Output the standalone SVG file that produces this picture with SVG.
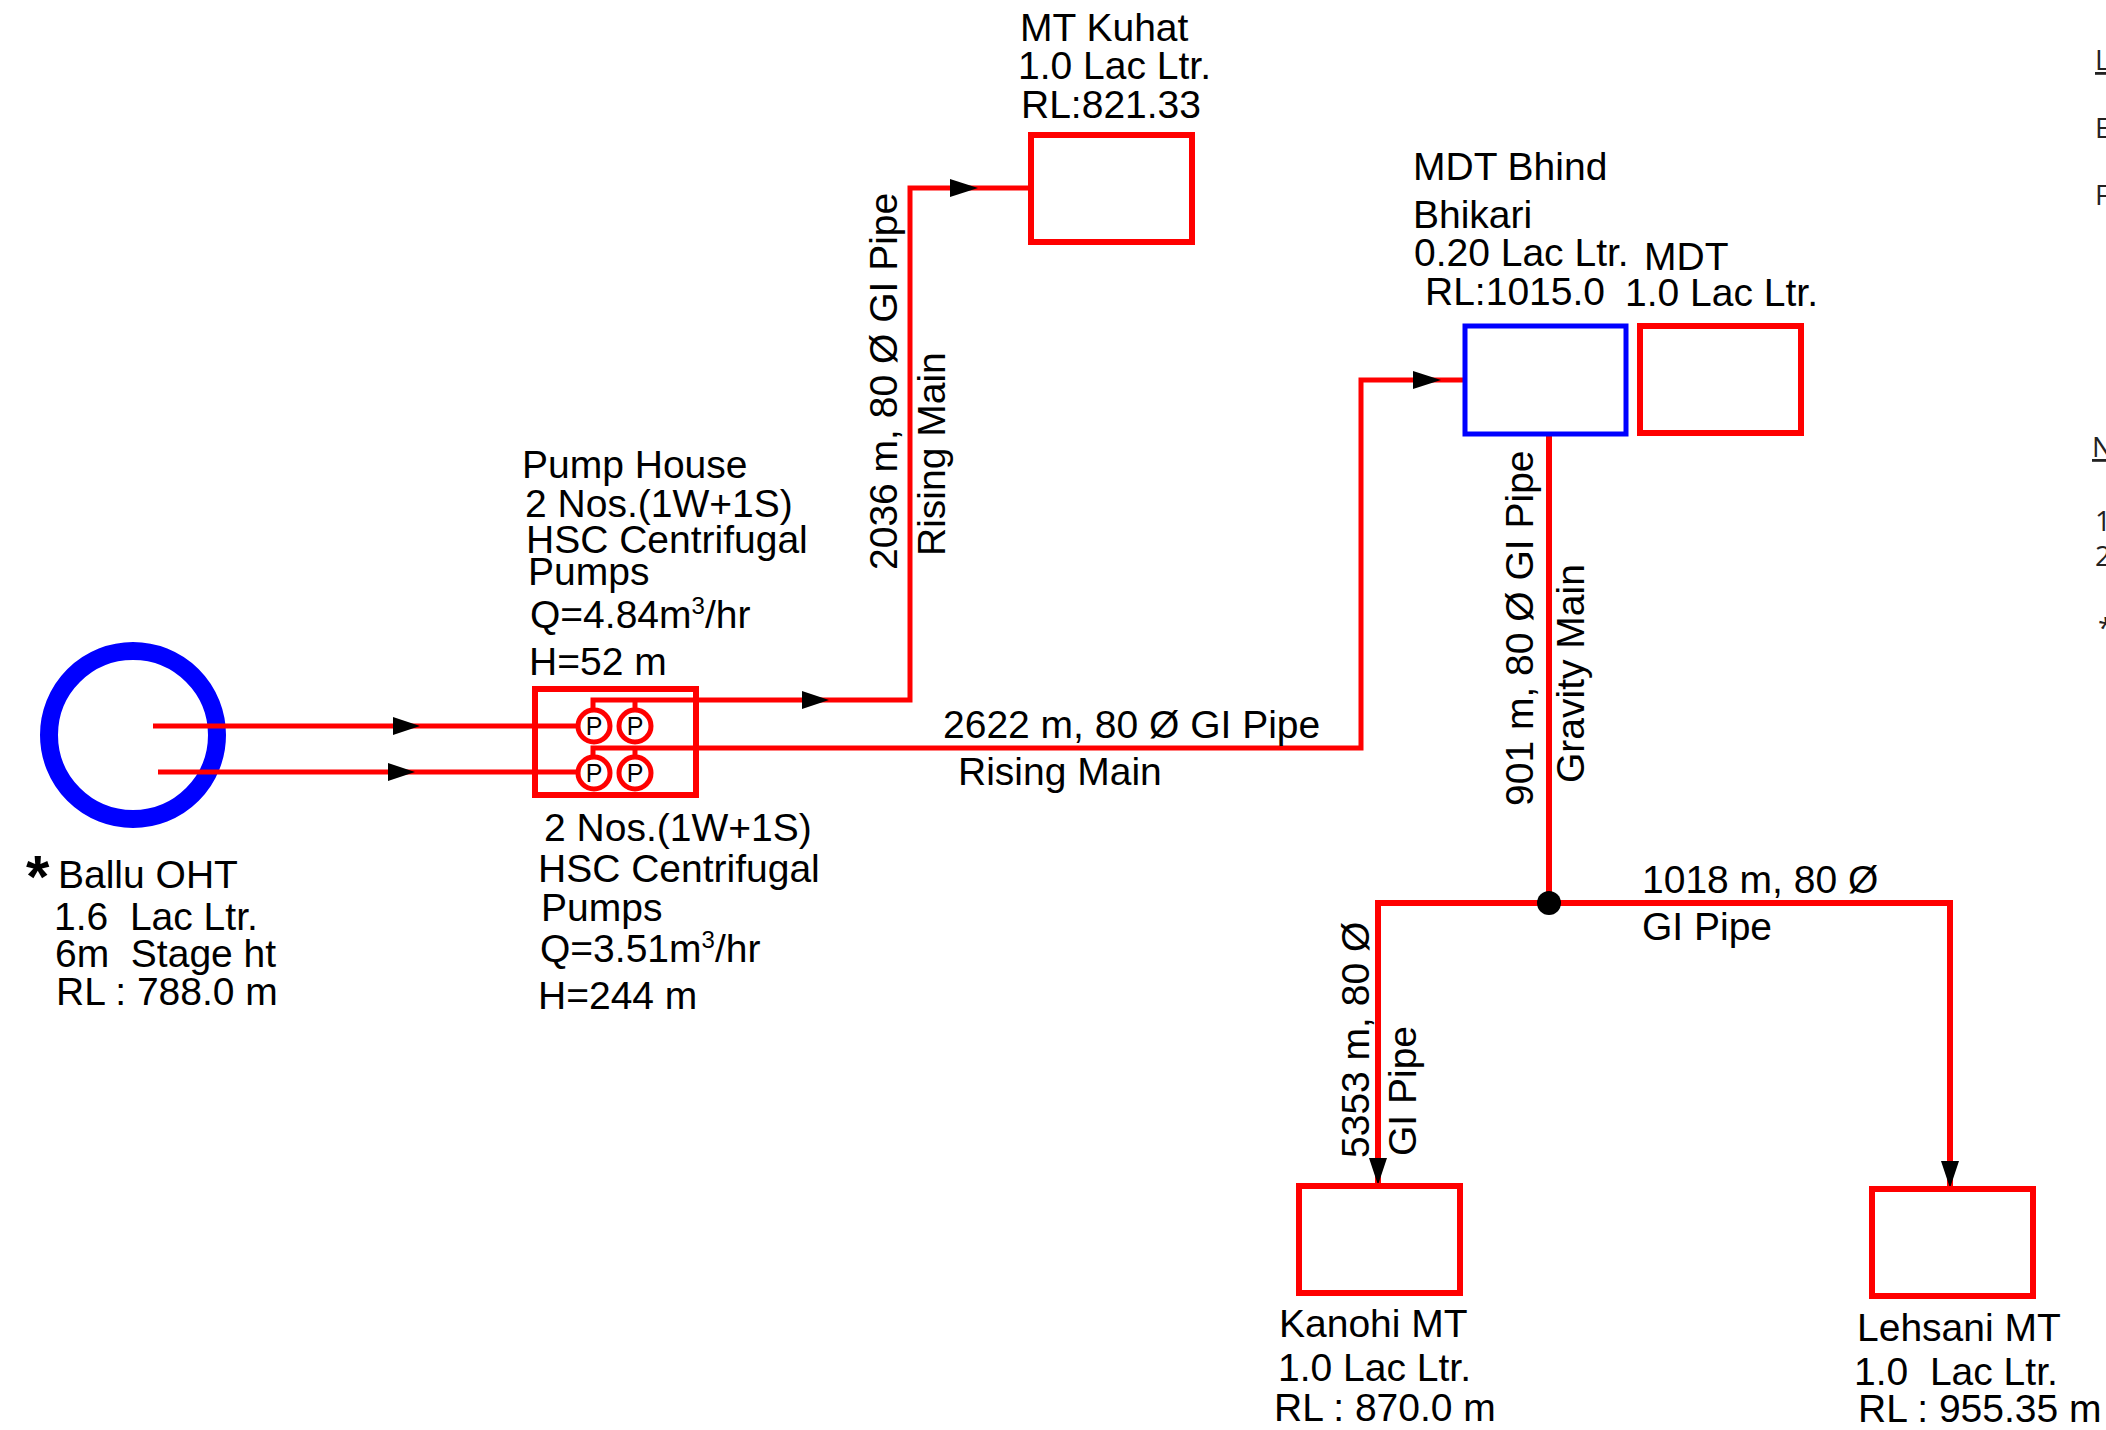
<svg xmlns="http://www.w3.org/2000/svg" width="2106" height="1430" viewBox="0 0 2106 1430">
<style>
text{font-family:"Liberation Sans",Arial,sans-serif;font-size:39px;fill:#000}
.p{fill:none;stroke:#f00;stroke-width:5}
.box{fill:none;stroke:#f00;stroke-width:6}
.blue{fill:none;stroke:#00f;stroke-width:5}
.pump{fill:#fff;stroke:#f00;stroke-width:5}
.pl{font-size:25px;text-anchor:middle}
.side{font-family:"Open Sans",sans-serif;font-size:28px;fill:#222}
.ah{fill:#000;stroke:none}
</style>
<rect width="2106" height="1430" fill="#fff"/>
<g id="ballu-oht">
<circle cx="133" cy="735" r="84" fill="none" stroke="#00f" stroke-width="18"/>
<text x="26" y="897" style="font-size:60px;font-weight:bold">*</text>
<text x="58" y="888">Ballu OHT</text>
<text x="54" y="930" xml:space="preserve">1.6  Lac Ltr.</text>
<text x="55" y="967" xml:space="preserve">6m  Stage ht</text>
<text x="56" y="1005">RL : 788.0 m</text>
</g>
<g id="pump-house">
<rect class="box" x="535" y="689" width="161" height="106"/>
<text x="522" y="478">Pump House</text>
<text x="525" y="517">2 Nos.(1W+1S)</text>
<text x="526" y="553">HSC Centrifugal</text>
<text x="528" y="585">Pumps</text>
<text x="530" y="628">Q=4.84m<tspan dy="-14" font-size="24">3</tspan><tspan dy="14">/hr</tspan></text>
<text x="529" y="675">H=52 m</text>
<text x="544" y="841">2 Nos.(1W+1S)</text>
<text x="538" y="882">HSC Centrifugal</text>
<text x="541" y="921">Pumps</text>
<text x="540" y="962">Q=3.51m<tspan dy="-14" font-size="24">3</tspan><tspan dy="14">/hr</tspan></text>
<text x="538" y="1009">H=244 m</text>
</g>
<g id="connectors">
<path class="p" d="M153 726H594M158 772H594"/>
<path class="p" d="M593 713V700H829H910V188H1030M635 700V713"/>
<path class="p" d="M593 760V748H1361V380H1465M635 748V760"/>
<path class="p" style="stroke-width:6" d="M1549 434V903M1378 1185V903H1950V1188"/>
<circle cx="1549" cy="903" r="12" fill="#000"/>
<path class="ah" d="M393 717L420 726L393 735Z"/>
<path class="ah" d="M388 763L415 772L388 781Z"/>
<path class="ah" d="M802 691L829 700L802 709Z"/>
<path class="ah" d="M950 179L978 188L950 197Z"/>
<path class="ah" d="M1413 371L1441 380L1413 389Z"/>
<path class="ah" d="M1369 1158L1378 1185L1387 1158Z"/>
<path class="ah" d="M1941 1161L1950 1188L1959 1161Z"/>
</g>
<g id="pump-1"><circle class="pump" cx="594" cy="726" r="16"/><text class="pl" x="594" y="735">P</text></g>
<g id="pump-2"><circle class="pump" cx="635" cy="726" r="16"/><text class="pl" x="635" y="735">P</text></g>
<g id="pump-3"><circle class="pump" cx="594" cy="773" r="16"/><text class="pl" x="594" y="782">P</text></g>
<g id="pump-4"><circle class="pump" cx="635" cy="773" r="16"/><text class="pl" x="635" y="782">P</text></g>
<g id="mt-kuhat">
<rect class="box" x="1031" y="135" width="161" height="107"/>
<text x="1020" y="41">MT Kuhat</text>
<text x="1018" y="79">1.0 Lac Ltr.</text>
<text x="1021" y="118">RL:821.33</text>
</g>
<g id="mdt-bhind">
<rect class="blue" x="1465" y="326" width="161" height="108"/>
<text x="1413" y="180">MDT Bhind</text>
<text x="1413" y="228">Bhikari</text>
<text x="1414" y="266">0.20 Lac Ltr.</text>
<text x="1425" y="305">RL:1015.0</text>
</g>
<g id="mdt">
<rect class="box" x="1640" y="326" width="161" height="107"/>
<text x="1644" y="270">MDT</text>
<text x="1625" y="306">1.0 Lac Ltr.</text>
</g>
<g id="kanohi-mt">
<rect class="box" x="1299" y="1186" width="161" height="107"/>
<text x="1279" y="1337">Kanohi MT</text>
<text x="1278" y="1381">1.0 Lac Ltr.</text>
<text x="1274" y="1421">RL : 870.0 m</text>
</g>
<g id="lehsani-mt">
<rect class="box" x="1872" y="1189" width="161" height="107"/>
<text x="1857" y="1341">Lehsani MT</text>
<text x="1854" y="1385" xml:space="preserve">1.0  Lac Ltr.</text>
<text x="1858" y="1422">RL : 955.35 m</text>
</g>
<g id="labels">
<text transform="translate(897 570) rotate(-90)">2036 m, 80 Ø GI Pipe</text>
<text transform="translate(945 556) rotate(-90)">Rising Main</text>
<text x="943" y="738">2622 m, 80 Ø GI Pipe</text>
<text x="958" y="785">Rising Main</text>
<text transform="translate(1533 806) rotate(-90)">901 m, 80 Ø GI Pipe</text>
<text transform="translate(1584 783) rotate(-90)">Gravity Main</text>
<text x="1642" y="893">1018 m, 80 Ø</text>
<text x="1642" y="940">GI Pipe</text>
<text transform="translate(1369 1158) rotate(-90)">5353 m, 80 Ø</text>
<text transform="translate(1416 1156) rotate(-90)">GI Pipe</text>
</g>
<g id="side-notes">
<text class="side" x="2095" y="70" text-decoration="underline">L</text>
<text class="side" x="2095" y="138">E</text>
<text class="side" x="2095" y="205">F</text>
<text class="side" x="2092" y="457" text-decoration="underline">N</text>
<text class="side" x="2095" y="531">1</text>
<text class="side" x="2095" y="566">2</text>
<text class="side" x="2098" y="638">*</text>
</g>
</svg>
